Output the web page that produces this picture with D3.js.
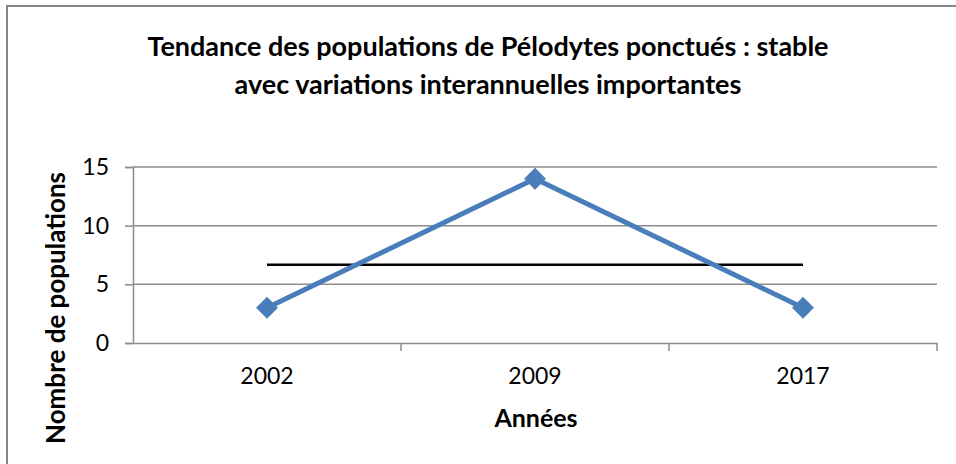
<!DOCTYPE html>
<html>
<head>
<meta charset="utf-8">
<script src="https://d3js.org/d3.v7.min.js"></script>
<style>
  body { margin: 0; background: #fff; }
  svg { display: block; font-family: Lato, "Open Sans", sans-serif; }
</style>
</head>
<body>
<div id="chart"></div>
<script>
const years = ["2002", "2009", "2017"];
const populations = [3, 14, 3];
const yTicks = [0, 5, 10, 15];
const titleLines = ["Tendance des populations de Pélodytes ponctués : stable",
                    "avec variations interannuelles importantes"];

const w = 956, h = 464;
const plotLeft = 133, plotRight = 937, plotTop = 167, plotBottom = 343;

const meanValue = d3.mean(populations);

const svg = d3.select("#chart").append("svg")
  .attr("width", w)
  .attr("height", h);

// chart border (only top/left visible in frame)
svg.append("rect")
  .attr("x", 7).attr("y", 6)
  .attr("width", w + 10).attr("height", h + 10)
  .attr("fill", "none")
  .attr("stroke", "#868686")
  .attr("stroke-width", 2);

const x = d3.scaleBand().domain(years).range([plotLeft, plotRight]);
const y = d3.scaleLinear().domain([0, 15]).range([plotBottom, plotTop]);

// gridlines
svg.append("g")
  .selectAll("line")
  .data(yTicks.filter(d => d > 0))
  .join("line")
  .attr("x1", plotLeft).attr("x2", plotRight)
  .attr("y1", d => y(d)).attr("y2", d => y(d))
  .attr("stroke", "#8c8c8c")
  .attr("stroke-width", 1.5);

// y axis
const yAxis = svg.append("g")
  .attr("transform", `translate(${plotLeft},0)`)
  .call(d3.axisLeft(y).tickValues(yTicks).tickSize(8).tickPadding(16));
yAxis.select(".domain").attr("stroke", "#8c8c8c").attr("stroke-width", 1.5);
yAxis.selectAll(".tick line").attr("stroke", "#8c8c8c").attr("stroke-width", 1.5);
yAxis.selectAll("text").attr("font-size", 23).attr("fill", "#000")
  .attr("font-family", "Lato, sans-serif");

// x axis
const xAxis = svg.append("g")
  .attr("transform", `translate(0,${plotBottom})`)
  .call(d3.axisBottom(x).tickSize(0).tickPadding(25));
xAxis.select(".domain").attr("stroke", "#8c8c8c").attr("stroke-width", 1.5);
xAxis.selectAll("text").attr("font-size", 23).attr("fill", "#000")
  .attr("font-family", "Lato, sans-serif");
// category boundary ticks
xAxis.selectAll(".bound")
  .data(years)
  .join("line")
  .attr("class", "bound")
  .attr("x1", d => x(d) + x.bandwidth()).attr("x2", d => x(d) + x.bandwidth())
  .attr("y1", 0).attr("y2", 8)
  .attr("stroke", "#8c8c8c").attr("stroke-width", 1.5);

// mean line
svg.append("line")
  .attr("x1", x(years[0]) + x.bandwidth() / 2)
  .attr("x2", x(years[years.length - 1]) + x.bandwidth() / 2)
  .attr("y1", y(meanValue)).attr("y2", y(meanValue))
  .attr("stroke", "#000")
  .attr("stroke-width", 2.5);

// series
const line = d3.line()
  .x((d, i) => x(years[i]) + x.bandwidth() / 2)
  .y(d => y(d));

svg.append("path")
  .datum(populations)
  .attr("d", line)
  .attr("fill", "none")
  .attr("stroke", "#4a7ebb")
  .attr("stroke-width", 5)
  .attr("stroke-linejoin", "round");

svg.selectAll(".marker")
  .data(populations)
  .join("path")
  .attr("class", "marker")
  .attr("d", d3.symbol().type(d3.symbolSquare).size(240))
  .attr("transform", (d, i) => `translate(${x(years[i]) + x.bandwidth() / 2},${y(d)}) rotate(45)`)
  .attr("fill", "#4a7ebb");

// title
svg.append("text")
  .attr("x", 488)
  .attr("text-anchor", "middle")
  .attr("font-size", 27)
  .attr("font-weight", "bold")
  .selectAll("tspan")
  .data(titleLines)
  .join("tspan")
  .attr("x", 488)
  .attr("y", (d, i) => 56 + i * 38)
  .text(d => d);

// axis titles
svg.append("text")
  .attr("x", 536).attr("y", 427)
  .attr("text-anchor", "middle")
  .attr("font-size", 25)
  .attr("font-weight", "bold")
  .text("Années");

svg.append("text")
  .attr("transform", "translate(65,308) rotate(-90)")
  .attr("text-anchor", "middle")
  .attr("font-size", 26)
  .attr("font-weight", "bold")
  .text("Nombre de populations");
</script>
</body>
</html>
